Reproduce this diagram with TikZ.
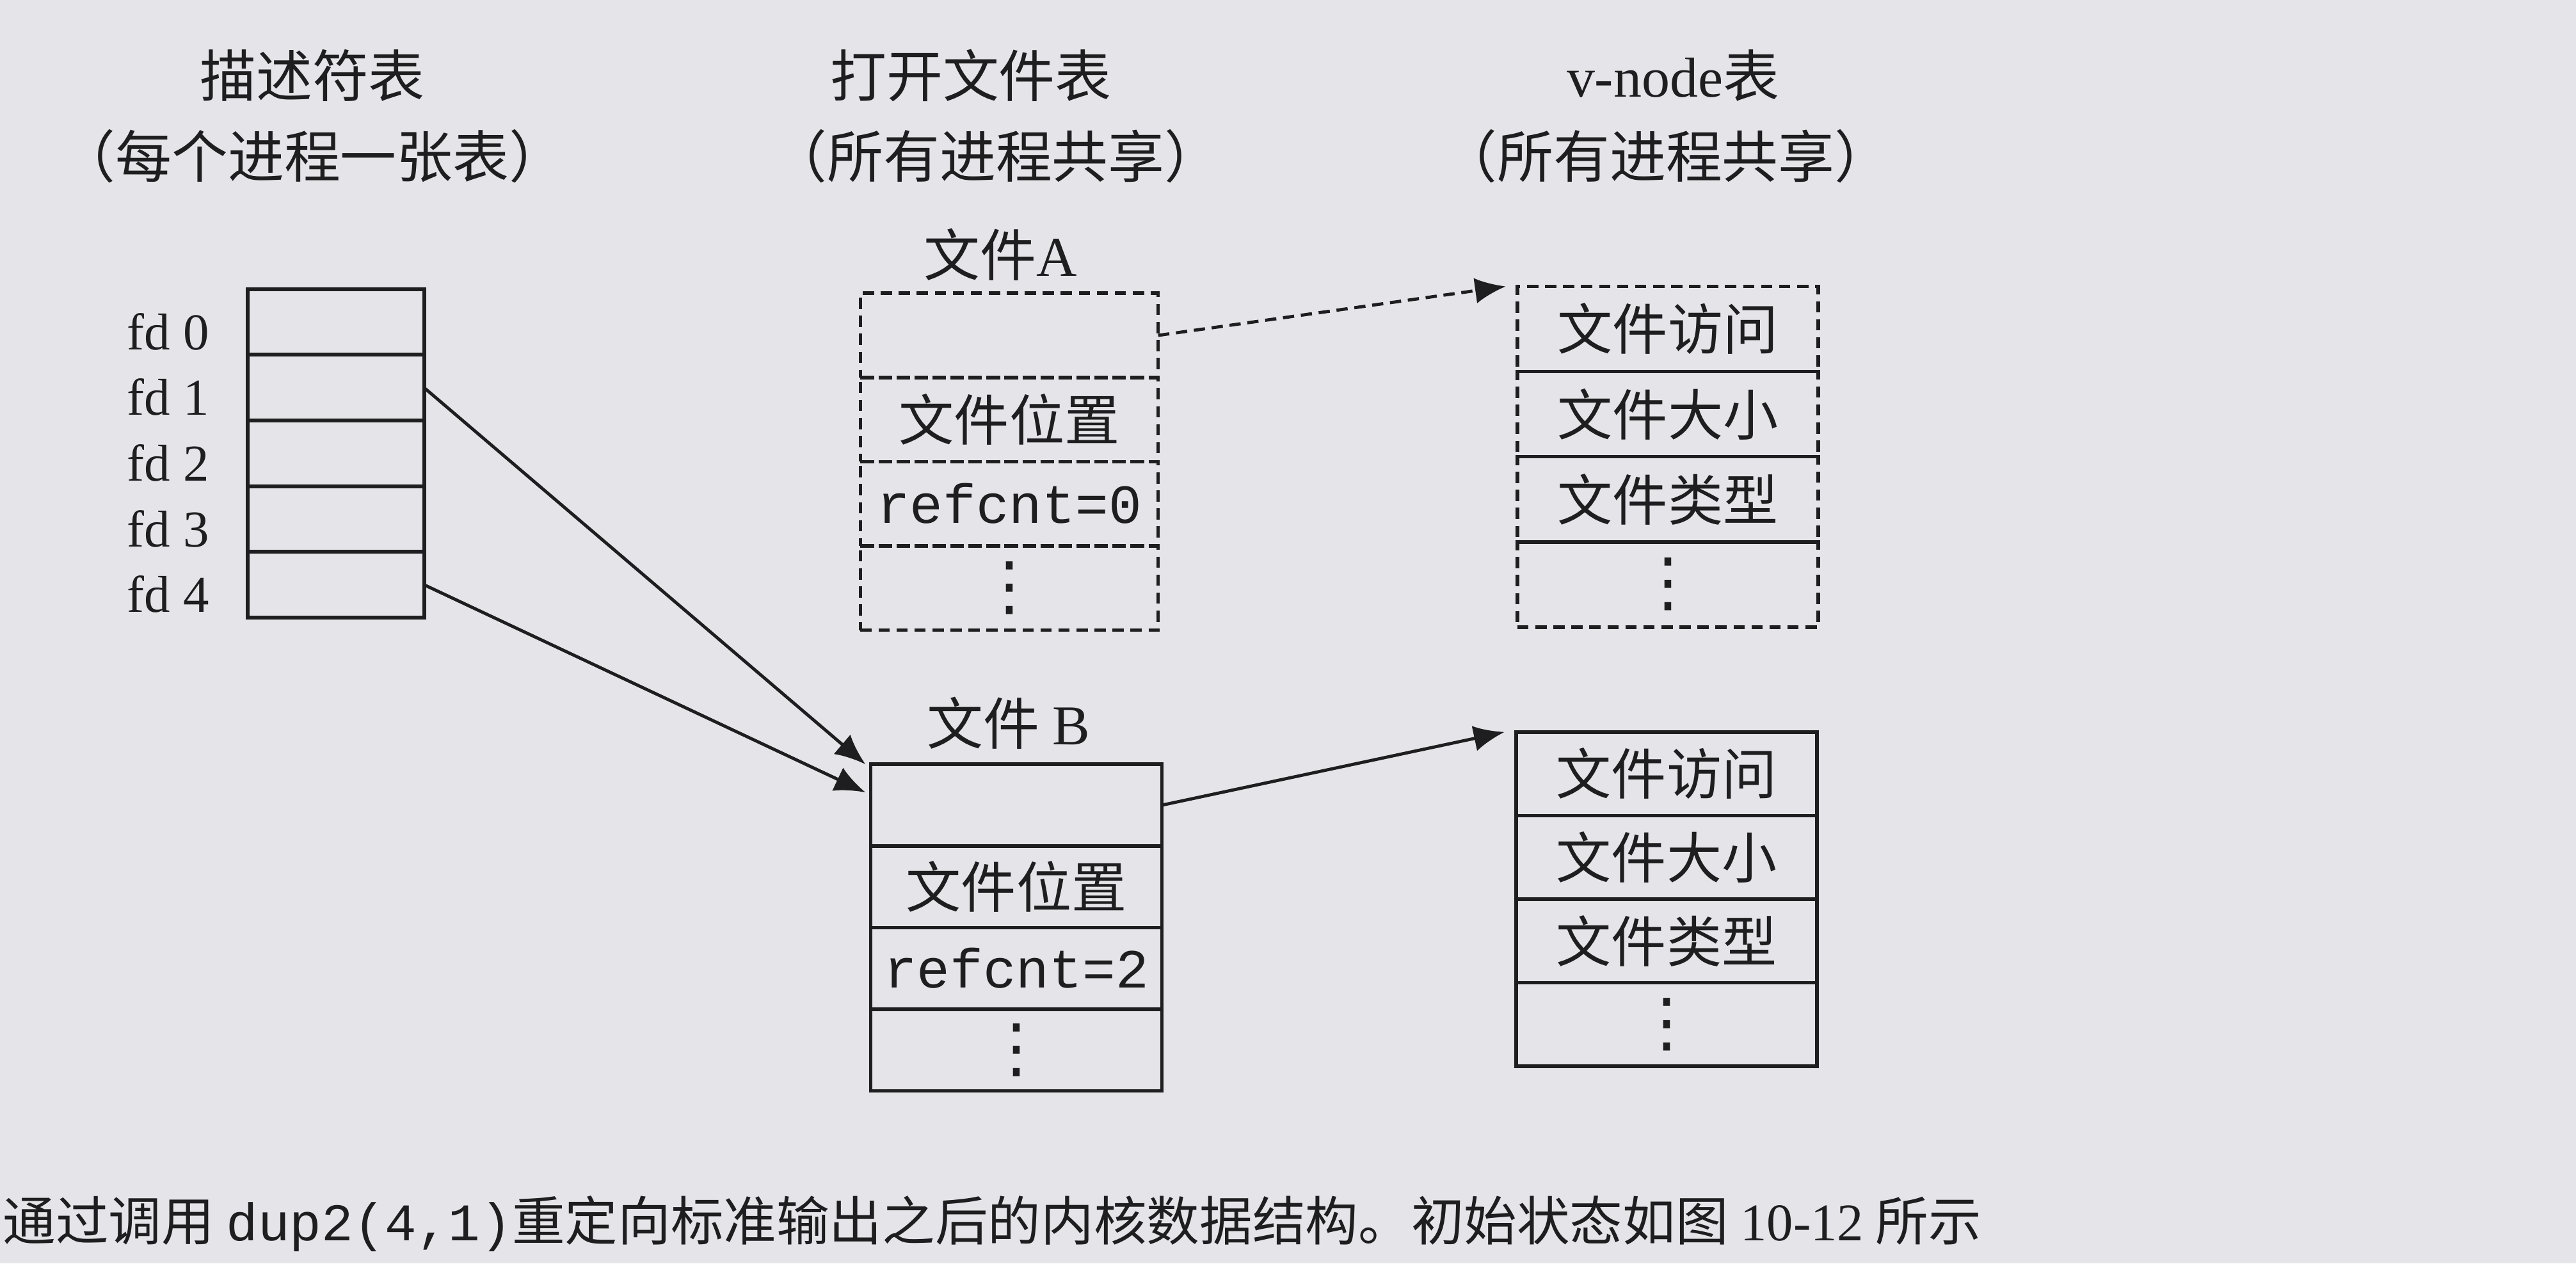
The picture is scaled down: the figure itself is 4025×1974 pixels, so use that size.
\documentclass[tikz,border=0pt]{standalone}
\usepackage{fontspec}
\setmainfont{Liberation Serif}
\setmonofont{Liberation Mono}
\newfontfamily\cjk{Noto Sans CJK SC}
\newfontfamily\symfont{DejaVu Sans}
\usetikzlibrary{arrows.meta,positioning}
\definecolor{paper}{RGB}{229,229,233}
\definecolor{ink}{RGB}{30,30,32}
\newcommand{\moredots}{{\symfont\fontsize{29}{29}\selectfont ⋮}}

\begin{document}
\begin{tikzpicture}[x=0.01cm,y=-0.01cm,
    txt/.style={text=ink,font=\fontsize{25}{28}\selectfont\cjk,inner sep=0pt},
    fdlab/.style={text=ink,font=\fontsize{23}{26}\selectfont,inner sep=0pt},
    fdcell/.style={draw=ink,line width=1.7pt,minimum width=2.75cm,minimum height=1.026cm,inner sep=0pt,outer sep=0pt},
    cell/.style={draw=ink,text=ink,line width=1.6pt,minimum width=4.65cm,inner sep=0pt,outer sep=0pt,font=\fontsize{24.5}{28}\selectfont\cjk},
    dashcell/.style={cell,dash pattern=on 5pt off 3pt},
    arrow/.style={-{Latex[length=0.48cm,width=0.4cm]},line width=1.4pt,draw=ink}]
  \useasboundingbox (0,0) rectangle (4025,1974);
  \fill[paper] (0,0) rectangle (4025,1974);

  \node[txt] (deschead) at (488,118) {描述符表};
  \node[txt] (descsub) at (488,244) {（每个进程一张表）};
  \node[txt] (openhead) at (1517,118) {打开文件表};
  \node[txt] (opensub) at (1556,244) {（所有进程共享）};
  \node[txt] (vnodehead) at (2614,118) {{\rmfamily v-node}表};
  \node[txt] (vnodesub) at (2603,244) {（所有进程共享）};

  \node[fdcell] (fd0) at (525,503) {};
  \node[fdcell,below=0pt of fd0] (fd1) {};
  \node[fdcell,below=0pt of fd1] (fd2) {};
  \node[fdcell,below=0pt of fd2] (fd3) {};
  \node[fdcell,below=0pt of fd3] (fd4) {};
  \node[fdlab,left=0.6cm of fd0,yshift=-0.15cm] (lab0) {fd 0};
  \node[fdlab,left=0.6cm of fd1,yshift=-0.15cm] (lab1) {fd 1};
  \node[fdlab,left=0.6cm of fd2,yshift=-0.15cm] (lab2) {fd 2};
  \node[fdlab,left=0.6cm of fd3,yshift=-0.15cm] (lab3) {fd 3};
  \node[fdlab,left=0.6cm of fd4,yshift=-0.15cm] (lab4) {fd 4};

  \node[txt] (fahead) at (1563,398) {文件{\rmfamily A}};
  \node[dashcell,minimum height=1.315cm] (fa0) at (1577,524) {};
  \node[dashcell,minimum height=1.315cm,below=0pt of fa0] (fa1) {文件位置};
  \node[dashcell,minimum height=1.315cm,below=0pt of fa1] (fa2) {\ttfamily refcnt=0};
  \node[dashcell,minimum height=1.315cm,below=0pt of fa2] (fa3) {\moredots};

  \node[dashcell,minimum height=1.33cm,minimum width=4.7cm] (va0) at (2606,514) {文件访问};
  \node[dashcell,minimum height=1.33cm,minimum width=4.7cm,below=0pt of va0] (va1) {文件大小};
  \node[dashcell,minimum height=1.33cm,minimum width=4.7cm,below=0pt of va1] (va2) {文件类型};
  \node[dashcell,minimum height=1.33cm,minimum width=4.7cm,below=0pt of va2] (va3) {\moredots};

  \node[txt] (fbhead) at (1576,1130) {文件 {\rmfamily B}};
  \node[cell,minimum height=1.275cm,minimum width=4.55cm] (fb0) at (1588,1258) {};
  \node[cell,minimum height=1.275cm,minimum width=4.55cm,below=0pt of fb0] (fb1) {文件位置};
  \node[cell,minimum height=1.275cm,minimum width=4.55cm,below=0pt of fb1] (fb2) {\ttfamily refcnt=2};
  \node[cell,minimum height=1.275cm,minimum width=4.55cm,below=0pt of fb2] (fb3) {\moredots};

  \node[cell,minimum height=1.305cm,minimum width=4.7cm] (vb0) at (2604,1209) {文件访问};
  \node[cell,minimum height=1.305cm,minimum width=4.7cm,below=0pt of vb0] (vb1) {文件大小};
  \node[cell,minimum height=1.305cm,minimum width=4.7cm,below=0pt of vb1] (vb2) {文件类型};
  \node[cell,minimum height=1.305cm,minimum width=4.7cm,below=0pt of vb2] (vb3) {\moredots};

  \draw[arrow] (fd1.east) -- ([xshift=-0.08cm]fb0.north west);
  \draw[arrow] (fd4.east) -- ([xshift=-0.08cm]fb0.175);
  \draw[arrow,dash pattern=on 5pt off 3pt] (fa0.east) -- ([xshift=-0.18cm]va0.north west);
  \draw[arrow] (fb0.east) -- ([xshift=-0.18cm]vb0.north west);

  \node[txt,anchor=west,font=\fontsize{23.5}{26}\selectfont\cjk] (caption) at (4,1912)
    {通过调用 {\ttfamily dup2(4,1)}重定向标准输出之后的内核数据结构。初始状态如图 {\rmfamily 10-12} 所示};
\end{tikzpicture}
\end{document}
